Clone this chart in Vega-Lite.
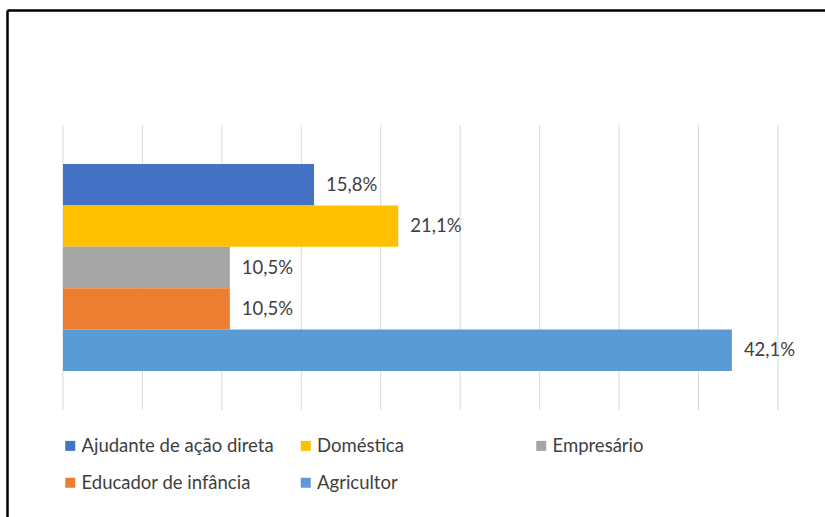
{
  "$schema": "https://vega.github.io/schema/vega-lite/v6.json",
  "width": 818,
  "height": 507,
  "autosize": {"type": "none"},
  "padding": {"left": 7, "top": 10, "right": 0, "bottom": 0},
  "background": "white",
  "config": {
    "view": {"stroke": null},
    "font": "Lato",
    "locale": {"number": {"decimal": ",", "thousands": ".", "grouping": [3], "currency": ["", " €"]}}
  },
  "datasets": {
    "jobs": [
      {"profissao": "Ajudante de ação direta", "pct": 0.158},
      {"profissao": "Doméstica", "pct": 0.211},
      {"profissao": "Empresário", "pct": 0.105},
      {"profissao": "Educador de infância", "pct": 0.105},
      {"profissao": "Agricultor", "pct": 0.421}
    ],
    "grid": [
      {"t": 0}, {"t": 0.05}, {"t": 0.1}, {"t": 0.15}, {"t": 0.2},
      {"t": 0.25}, {"t": 0.3}, {"t": 0.35}, {"t": 0.4}, {"t": 0.45}
    ]
  },
  "layer": [
    {
      "data": {"name": "grid"},
      "mark": {"type": "rule", "color": "#D9D9D9", "strokeWidth": 1},
      "encoding": {
        "x": {
          "field": "t",
          "type": "quantitative",
          "scale": {"domain": [-0.03524, 0.4796], "nice": false},
          "axis": {"orient": "top", "title": null, "labels": false, "ticks": false, "grid": false, "domainColor": "#000000", "domainWidth": 2.5}
        },
        "y": {
          "datum": 0,
          "type": "quantitative",
          "scale": {"domain": [-0.3754, 1.4035], "nice": false, "zero": false},
          "axis": {"orient": "left", "title": null, "labels": false, "ticks": false, "grid": false, "domainColor": "#000000", "domainWidth": 2.5}
        },
        "y2": {"datum": 1}
      }
    },
    {
      "data": {"name": "jobs"},
      "encoding": {
        "y": {
          "field": "profissao",
          "type": "nominal",
          "sort": null,
          "scale": {"paddingInner": 0, "paddingOuter": 0, "range": [154, 361]},
          "axis": null
        },
        "x": {"field": "pct", "type": "quantitative"}
      },
      "layer": [
        {
          "mark": {"type": "bar"},
          "encoding": {
            "x2": {"datum": 0},
            "color": {
              "field": "profissao",
              "type": "nominal",
              "sort": null,
              "scale": {
                "domain": ["Ajudante de ação direta", "Doméstica", "Empresário", "Educador de infância", "Agricultor"],
                "range": ["#4472C4", "#FFC000", "#A5A5A5", "#ED7D31", "#5B9BD5"]
              },
              "legend": {
                "orient": "none",
                "legendX": 54,
                "legendY": 426.5,
                "direction": "horizontal",
                "columns": 3,
                "gridAlign": "all",
                "title": null,
                "symbolType": "square",
                "symbolSize": 100,
                "symbolStrokeWidth": 0,
                "labelFont": "Lato",
                "labelFontSize": 18.5,
                "labelColor": "#404040",
                "labelLimit": 400,
                "labelOffset": 2,
                "columnPadding": 22.5,
                "rowPadding": 18,
                "padding": 0
              }
            }
          }
        },
        {
          "mark": {"type": "text", "align": "left", "baseline": "middle", "dx": 12, "fontSize": 18.5, "color": "#404040", "font": "Lato"},
          "encoding": {
            "text": {"field": "pct", "type": "quantitative", "format": ".1%"}
          }
        }
      ]
    }
  ],
  "resolve": {"scale": {"y": "independent"}, "axis": {"y": "independent"}}
}
